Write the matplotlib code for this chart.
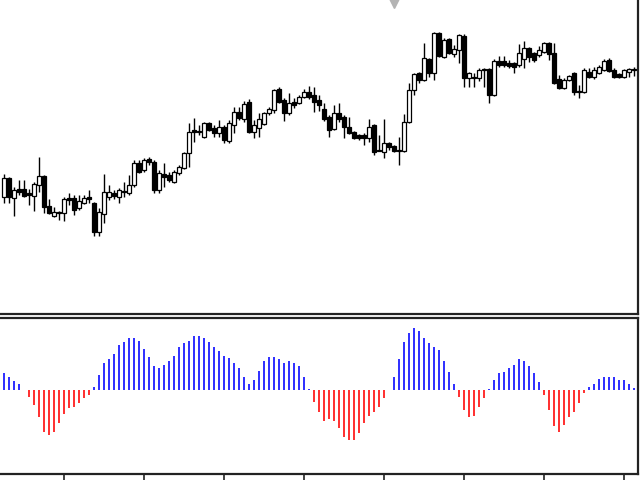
import numpy as np
import matplotlib.pyplot as plt
from matplotlib.patches import Rectangle

# candle prices (open, high, low, close), one entry per bar
opens = [123, 142, 122, 131, 131, 127, 124, 135, 144, 114, 104, 108, 107, 122, 122, 112,
         117, 123, 117, 88, 106, 123, 127, 123, 129, 127, 135, 157, 150, 161, 158, 130,
         146, 145, 138, 147, 152, 167, 190, 189, 183, 197, 192, 187, 193, 179, 195, 208,
         201, 218, 188, 192, 196, 207, 210, 231, 220, 207, 218, 217, 223, 228, 225, 220,
         211, 203, 191, 207, 203, 193, 188, 185, 185, 182, 195, 170, 168, 177, 174, 170,
         169, 198, 230, 247, 240, 261, 247, 287, 263, 281, 266, 270, 284, 242, 243, 242,
         251, 251, 225, 259, 259, 257, 257, 255, 261, 272, 267, 265, 268, 277, 267, 241,
         232, 240, 247, 229, 228, 248, 243, 247, 250, 260, 250, 246, 243, 248, 251]
highs = [146, 143, 133, 140, 140, 131, 138, 163, 145, 121, 113, 109, 123, 127, 125, 125,
         125, 130, 118, 112, 146, 135, 130, 132, 138, 145, 160, 160, 162, 163, 160, 150,
         157, 148, 150, 155, 168, 197, 202, 195, 198, 198, 195, 200, 195, 200, 213, 213,
         219, 221, 200, 207, 208, 213, 231, 233, 222, 227, 222, 225, 231, 234, 233, 225,
         217, 205, 215, 217, 205, 203, 189, 186, 187, 201, 196, 185, 201, 178, 175, 183,
         206, 237, 247, 248, 277, 262, 288, 288, 282, 282, 275, 286, 286, 248, 247, 252,
         252, 252, 261, 264, 264, 260, 258, 276, 279, 273, 268, 274, 278, 278, 277, 245,
         242, 245, 248, 235, 252, 252, 253, 255, 261, 262, 252, 247, 251, 252, 253]
lows = [117, 117, 104, 125, 123, 115, 109, 128, 107, 106, 103, 100, 99, 115, 105, 110,
        116, 117, 84, 84, 97, 120, 121, 117, 123, 125, 133, 147, 148, 155, 127, 127,
        133, 138, 137, 145, 151, 153, 178, 185, 182, 189, 183, 183, 177, 177, 187, 200,
        198, 187, 182, 183, 195, 205, 207, 217, 199, 205, 212, 216, 222, 221, 208, 209,
        199, 183, 190, 198, 182, 186, 181, 180, 175, 178, 165, 169, 162, 170, 168, 155,
        168, 197, 225, 237, 239, 243, 240, 263, 262, 266, 263, 257, 233, 233, 233, 239,
        233, 217, 224, 253, 253, 252, 247, 253, 252, 258, 258, 263, 267, 260, 236, 231,
        231, 239, 225, 222, 227, 242, 241, 246, 249, 248, 242, 242, 242, 243, 244]
closes = [142, 123, 130, 128, 124, 125, 136, 144, 113, 107, 108, 107, 121, 120, 110, 119,
          122, 121, 88, 108, 128, 128, 124, 130, 128, 135, 157, 148, 160, 158, 130, 147,
          143, 140, 148, 153, 167, 188, 188, 188.5, 197, 190, 187, 193, 180, 197, 208, 202,
          216, 188, 195, 201, 207, 211, 230, 218, 207, 217, 215, 223, 228, 223, 218, 215,
          201, 190, 207, 201, 193, 187, 182, 182, 182, 193, 168, 169.5, 177, 173, 169, 169.5,
          198, 230, 246, 240, 262, 247, 287, 264, 280, 267, 271, 285, 242, 247, 242.5, 250,
          250, 225, 259, 255, 255, 254, 253, 267, 272, 263, 260, 270, 277, 266, 237, 232,
          240, 244, 228, 228.5, 250, 243, 250, 253, 259, 249, 243, 243, 250, 251, 250.5]

# oscillator histogram, one value per bar
osc = [16.7, 12.7, 9.3, 5.7, 0, -6.7, -15.3, -27.3, -41.7, -45, -41.7, -32.7, -24, -18.3,
       -17.3, -13.3, -8.3, -4.7, 2.7, 14.7, 27.3, 30.7, 36, 45, 48.3, 52, 52, 48.7, 41.3,
       32.7, 23.7, 22, 25.3, 29, 34.3, 43, 46.7, 48.7, 53.7, 53.7, 52, 48.3, 43.3, 39.3, 34,
       32.3, 27.3, 21.7, 13, 6, 9.7, 18.7, 29, 32.7, 32.7, 30.7, 27.3, 29, 27.3, 23.7, 13,
       0.7, -11.7, -22, -31, -29.3, -31, -38.3, -46.7, -50.3, -50.3, -43.3, -32.7, -25.7,
       -22.3, -17, -8.3, 0, 13, 30.7, 48.3, 57.3, 62.3, 59, 51.7, 46.7, 43, 39.7, 29, 18.3,
       6, -6.7, -20.3, -27.3, -25.7, -17, -8.3, 1, 9.7, 16.7, 18.3, 22, 25.3, 30.7, 29,
       23.7, 16.7, 7.7, -4.7, -20.3, -36.3, -41.7, -34.7, -27.3, -22.3, -13.3, -3, 2.7, 6,
       11.3, 13, 13, 13, 9.7, 9.7, 6, 1.7]

signal_bar = 78
signal_price = 318

x = np.arange(len(opens))
o = np.array(opens, float)
h = np.array(highs, float)
l = np.array(lows, float)
c = np.array(closes, float)
v = np.array(osc)

fig = plt.figure(figsize=(6.4, 4.8), dpi=100)
ax1 = fig.add_axes([0.0, 166 / 480, 638 / 640, 314 / 480])
ax2 = fig.add_axes([0.0, 6 / 480, 638 / 640, 156 / 480])

# candles
ax1.vlines(x, l, h, color='black', lw=1.0, zorder=1)
for xi, oi, ci in zip(x, o, c):
    up = ci >= oi
    bottom = min(oi, ci)
    height = max(abs(ci - oi), 0.6)
    ax1.add_patch(Rectangle((xi - 0.33, bottom), 0.66, height,
                            facecolor='white' if up else 'black',
                            edgecolor='black', lw=0.9, zorder=2))
ax1.plot([signal_bar], [signal_price], marker='v', markersize=8, color='#b4b4b4', zorder=3)

ax1.set_xlim(-0.8, 126.8)
ax1.set_ylim(6, 320)
ax1.set_xticks([])
ax1.set_yticks([])
for s in ['left', 'top']:
    ax1.spines[s].set_visible(False)
for s in ['right', 'bottom']:
    ax1.spines[s].set_color('#222222')
    ax1.spines[s].set_linewidth(1.6)

# histogram
cols = ['#0000ff' if val >= 0 else '#ff0000' for val in v]
ax2.vlines(x, 0, v, colors=cols, lw=1.15)
ax2.set_xlim(-0.8, 126.8)
ax2.set_ylim(-84, 72)
ax2.set_yticks([])
ax2.set_xticks([12, 28, 44, 60, 76, 92, 108, 124])
ax2.set_xticklabels([])
ax2.tick_params(axis='x', direction='out', length=6, width=1.2, color='#222222')
ax2.spines['left'].set_visible(False)
for s in ['right', 'bottom', 'top']:
    ax2.spines[s].set_color('#222222')
    ax2.spines[s].set_linewidth(1.6)

fig.savefig('out.png', dpi=100)
